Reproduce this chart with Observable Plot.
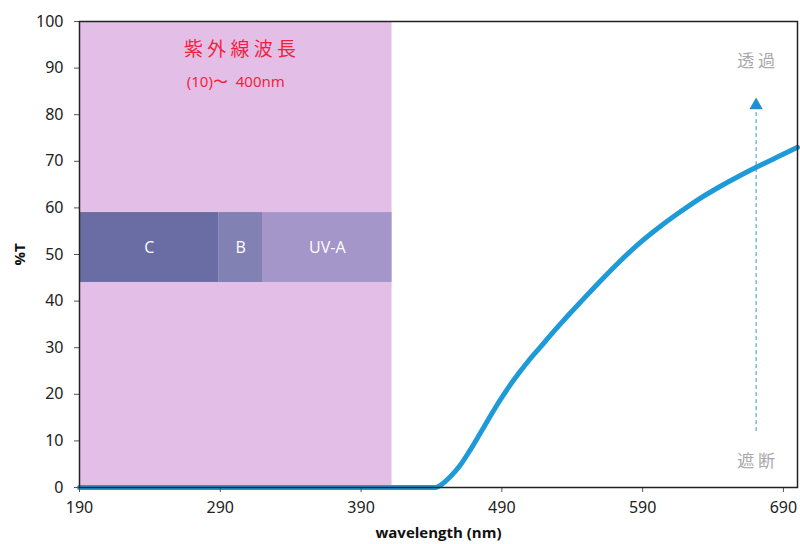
<!DOCTYPE html>
<html>
<head>
<meta charset="utf-8">
<script src="https://cdn.jsdelivr.net/npm/d3@7"></script>
<script src="https://cdn.jsdelivr.net/npm/@observablehq/plot@0.6"></script>
<style>
  html, body { margin: 0; padding: 0; background: #fff; }
  #chart { width: 800px; height: 544px; }
</style>
</head>
<body>
<div id="chart"></div>
<script>
// ---- data ----
const wavelengths = [190, 250, 300, 350, 400, 443, 446, 453, 460, 467, 474, 481, 488, 495, 502, 509, 517, 524, 531, 537, 545, 559, 573, 588, 602, 616, 630, 645, 659, 670, 685, 700];
const transmittance = [0, 0, 0, 0, 0, 0, 0.4, 2.2, 4.6, 7.8, 11.3, 14.9, 18.4, 21.6, 24.5, 27.2, 30.0, 32.5, 34.9, 36.9, 39.5, 44.0, 48.3, 52.5, 55.9, 59.0, 61.9, 64.6, 66.9, 68.6, 70.8, 73.0];

const uvRegion = [190, 412];          // shaded ultraviolet region (nm)
const bandNames = ["C", "B", "UV-A"];
const bandStart = [190, 289, 320];
const bandEnd = [289, 320, 412];
const bandLow = 44;
const bandHigh = 59;

const xTicks = [190, 290, 390, 490, 590, 690];
const yTicks = [0, 10, 20, 30, 40, 50, 60, 70, 80, 90, 100];

const titleText = "紫 外 線 波 長";
const rangeText = "(10)〜  400nm";
const passText = "透 過";
const blockText = "遮 断";
const arrowX = 670.6;
const arrowFrom = 12;
const arrowTo = 82;

// ---- derived tables ----
const curve = wavelengths.map((w, i) => ({w, t: transmittance[i]}));
const bands = bandNames.map((name, i) => ({name, x1: bandStart[i], x2: bandEnd[i], mid: (bandStart[i] + bandEnd[i]) / 2}));
const bandColors = ["#6a6ca4", "#8281b4", "#a496c9"];

const font = "'Open Sans', 'Noto Sans', sans-serif";
const tickFont = "'Noto Sans', 'Open Sans', sans-serif";
const jpFont = "'Noto Sans CJK JP', sans-serif";

const chart = Plot.plot({
  width: 800,
  height: 544,
  marginLeft: 79,
  marginRight: 3,
  marginTop: 21,
  marginBottom: 57,
  style: {fontFamily: tickFont, fontSize: "16px", color: "#222", background: "#fff"},
  x: {domain: [190, 700]},
  y: {domain: [0, 100]},
  marks: [
    Plot.rect([uvRegion], {x1: d => d[0], x2: d => d[1], y1: 0, y2: 100, fill: "#e3bfe8"}),
    Plot.rect(bands, {x1: "x1", x2: "x2", y1: bandLow, y2: bandHigh, fill: (d, i) => bandColors[i]}),
    Plot.text(bands, {x: "mid", y: (bandLow + bandHigh) / 2, text: "name", fill: "white", fontSize: 16, fontFamily: font}),
    Plot.text([titleText], {x: 304, y: 94, text: d => d, fill: "#f21f40", fontSize: 19, fontFamily: jpFont}),
    Plot.text([rangeText], {x: 301, y: 87, text: d => d, fill: "#f21f40", fontSize: 15, fontFamily: tickFont}),
    Plot.ruleX([arrowX], {y1: arrowFrom, y2: arrowTo, stroke: "#2d9ad6", strokeWidth: 1, strokeDasharray: "4,3"}),
    Plot.dot([arrowX], {x: d => d, y: arrowTo, symbol: "triangle", r: 5, fill: "#1f8fd4", stroke: "none"}),
    Plot.text([passText], {x: arrowX, y: 91.5, text: d => d, fill: "#a8a8a8", fontSize: 17, fontFamily: jpFont}),
    Plot.text([blockText], {x: arrowX, y: 5.5, text: d => d, fill: "#a8a8a8", fontSize: 17, fontFamily: jpFont}),
    Plot.line(curve, {x: "w", y: "t", stroke: "#1e9ad8", strokeWidth: 5, curve: "monotone-x"}),
    Plot.axisX({ticks: xTicks, tickSize: 5, tickPadding: 9, fontSize: 16, label: null, stroke: "#555", fill: "#222"}),
    Plot.axisY({ticks: yTicks, tickSize: 5, tickPadding: 11, fontSize: 16, label: null, stroke: "#555", fill: "#222"}),
    Plot.frame({stroke: "#222", strokeWidth: 1.5}),
    Plot.text(["wavelength (nm)"], {frameAnchor: "bottom", dy: 50, text: d => d, fontWeight: "bold", fontSize: 15, fill: "#111", fontFamily: font}),
    Plot.text(["%T"], {x: 190, y: 50, dx: -59, rotate: -90, text: d => d, fontWeight: "bold", fontSize: 15, fill: "#111", fontFamily: font})
  ]
});
document.getElementById("chart").appendChild(chart);
</script>
</body>
</html>
